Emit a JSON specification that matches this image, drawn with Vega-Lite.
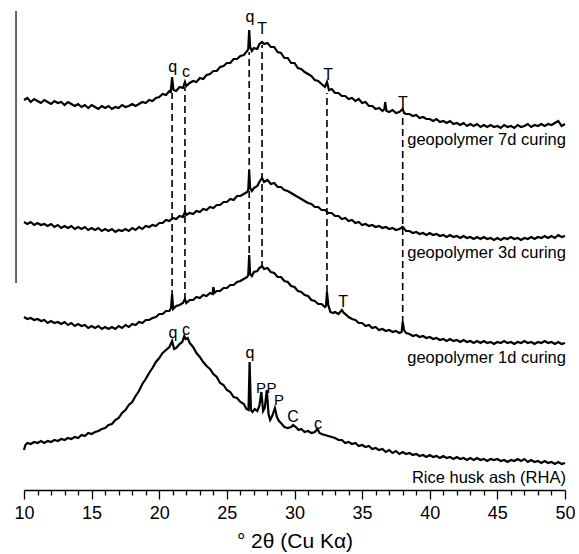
{
"$schema": "https://vega.github.io/schema/vega-lite/v6.json",
"width": 541, "height": 490,
"autosize": "none",
"padding": {"left": 24, "top": 0, "right": 14, "bottom": 64},
"config": {"view": {"stroke": null}, "font": "Liberation Sans"},
"datasets": {
"d7": [{"x":10,"y":390},{"x":10.25,"y":392},{"x":10.5,"y":388},{"x":10.75,"y":391},{"x":11,"y":389},{"x":11.25,"y":387},{"x":11.5,"y":390},{"x":11.75,"y":388},{"x":12,"y":386},{"x":12.25,"y":389},{"x":12.5,"y":387},{"x":12.75,"y":388},{"x":13,"y":385},{"x":13.25,"y":388},{"x":13.5,"y":386},{"x":13.75,"y":384},{"x":14,"y":386},{"x":14.25,"y":383},{"x":14.5,"y":385},{"x":14.75,"y":382},{"x":15,"y":385},{"x":15.25,"y":383},{"x":15.5,"y":381},{"x":15.75,"y":384},{"x":16,"y":382},{"x":16.25,"y":384},{"x":16.5,"y":381},{"x":16.75,"y":383},{"x":17,"y":382},{"x":17.25,"y":385},{"x":17.5,"y":383},{"x":17.75,"y":384},{"x":18,"y":386},{"x":18.25,"y":384},{"x":18.5,"y":386},{"x":18.75,"y":388},{"x":19,"y":387},{"x":19.25,"y":390},{"x":19.5,"y":389},{"x":19.75,"y":392},{"x":20,"y":393},{"x":20.25,"y":396},{"x":20.5,"y":395},{"x":20.75,"y":399},{"x":20.85,"y":398},{"x":20.95,"y":413},{"x":21.05,"y":400},{"x":21.25,"y":399},{"x":21.5,"y":403},{"x":21.75,"y":402},{"x":21.9,"y":408},{"x":22,"y":404},{"x":22.25,"y":407},{"x":22.5,"y":409},{"x":22.75,"y":408},{"x":23,"y":412},{"x":23.25,"y":411},{"x":23.5,"y":415},{"x":23.75,"y":416},{"x":24,"y":419},{"x":24.25,"y":419},{"x":24.5,"y":423},{"x":24.75,"y":424},{"x":25,"y":427},{"x":25.25,"y":427},{"x":25.5,"y":431},{"x":25.75,"y":431},{"x":26,"y":434},{"x":26.25,"y":435},{"x":26.5,"y":439},{"x":26.58,"y":441},{"x":26.65,"y":460},{"x":26.72,"y":443},{"x":26.85,"y":439},{"x":27,"y":442},{"x":27.25,"y":441},{"x":27.4,"y":446},{"x":27.6,"y":448},{"x":27.75,"y":446},{"x":28,"y":447},{"x":28.25,"y":443},{"x":28.5,"y":443},{"x":28.75,"y":438},{"x":29,"y":437},{"x":29.25,"y":432},{"x":29.5,"y":432},{"x":29.75,"y":427},{"x":30,"y":427},{"x":30.25,"y":422},{"x":30.5,"y":421},{"x":30.75,"y":418},{"x":31,"y":416},{"x":31.25,"y":414},{"x":31.5,"y":410},{"x":31.75,"y":409},{"x":32,"y":406},{"x":32.25,"y":403},{"x":32.4,"y":408},{"x":32.55,"y":400},{"x":32.75,"y":401},{"x":33,"y":397},{"x":33.25,"y":397},{"x":33.5,"y":394},{"x":33.75,"y":394},{"x":34,"y":391},{"x":34.25,"y":392},{"x":34.5,"y":389},{"x":34.75,"y":391},{"x":35,"y":387},{"x":35.25,"y":388},{"x":35.5,"y":384},{"x":35.75,"y":384},{"x":36,"y":381},{"x":36.25,"y":382},{"x":36.5,"y":379},{"x":36.65,"y":381},{"x":36.7,"y":388},{"x":36.8,"y":379},{"x":37,"y":378},{"x":37.25,"y":380},{"x":37.5,"y":377},{"x":37.75,"y":378},{"x":38,"y":381},{"x":38.1,"y":377},{"x":38.25,"y":376},{"x":38.5,"y":376},{"x":38.75,"y":374},{"x":39,"y":375},{"x":39.25,"y":372},{"x":39.5,"y":373},{"x":39.75,"y":371},{"x":40,"y":371},{"x":40.25,"y":369},{"x":40.5,"y":371},{"x":40.75,"y":368},{"x":41,"y":369},{"x":41.25,"y":367},{"x":41.5,"y":369},{"x":41.75,"y":366},{"x":42,"y":367},{"x":42.25,"y":365},{"x":42.5,"y":367},{"x":42.75,"y":364},{"x":43,"y":366},{"x":43.25,"y":364},{"x":43.5,"y":366},{"x":43.75,"y":363},{"x":44,"y":365},{"x":44.25,"y":363},{"x":44.5,"y":365},{"x":44.75,"y":363},{"x":45,"y":364},{"x":45.25,"y":362},{"x":45.5,"y":365},{"x":45.75,"y":363},{"x":46,"y":364},{"x":46.25,"y":362},{"x":46.5,"y":365},{"x":46.75,"y":363},{"x":47,"y":364},{"x":47.25,"y":366},{"x":47.5,"y":363},{"x":47.75,"y":365},{"x":48,"y":364},{"x":48.25,"y":366},{"x":48.5,"y":364},{"x":48.75,"y":366},{"x":49,"y":365},{"x":49.25,"y":367},{"x":49.5,"y":369},{"x":49.75,"y":364},{"x":50,"y":366}],
"d3": [{"x":10,"y":268},{"x":10.25,"y":266},{"x":10.5,"y":268},{"x":10.75,"y":265},{"x":11,"y":267},{"x":11.25,"y":265},{"x":11.5,"y":266},{"x":11.75,"y":264},{"x":12,"y":266},{"x":12.25,"y":263},{"x":12.5,"y":265},{"x":12.75,"y":262},{"x":13,"y":264},{"x":13.25,"y":262},{"x":13.5,"y":264},{"x":13.75,"y":261},{"x":14,"y":263},{"x":14.25,"y":261},{"x":14.5,"y":263},{"x":14.75,"y":260},{"x":15,"y":262},{"x":15.25,"y":260},{"x":15.5,"y":262},{"x":15.75,"y":259},{"x":16,"y":261},{"x":16.25,"y":259},{"x":16.5,"y":261},{"x":16.75,"y":258},{"x":17,"y":260},{"x":17.25,"y":259},{"x":17.5,"y":261},{"x":17.75,"y":259},{"x":18,"y":262},{"x":18.25,"y":260},{"x":18.5,"y":263},{"x":18.75,"y":261},{"x":19,"y":264},{"x":19.25,"y":263},{"x":19.5,"y":265},{"x":19.75,"y":264},{"x":20,"y":267},{"x":20.25,"y":267},{"x":20.5,"y":270},{"x":20.75,"y":269},{"x":21,"y":272},{"x":21.25,"y":271},{"x":21.5,"y":274},{"x":21.75,"y":273},{"x":21.9,"y":278},{"x":22,"y":275},{"x":22.25,"y":277},{"x":22.5,"y":276},{"x":22.75,"y":279},{"x":23,"y":278},{"x":23.25,"y":281},{"x":23.5,"y":280},{"x":23.75,"y":283},{"x":24,"y":282},{"x":24.25,"y":285},{"x":24.5,"y":285},{"x":24.75,"y":288},{"x":25,"y":288},{"x":25.25,"y":291},{"x":25.5,"y":290},{"x":25.75,"y":294},{"x":26,"y":294},{"x":26.25,"y":296},{"x":26.5,"y":298},{"x":26.58,"y":300},{"x":26.65,"y":320},{"x":26.72,"y":302},{"x":26.85,"y":299},{"x":27,"y":302},{"x":27.25,"y":304},{"x":27.4,"y":308},{"x":27.6,"y":312},{"x":27.75,"y":308},{"x":28,"y":310},{"x":28.25,"y":306},{"x":28.5,"y":307},{"x":28.75,"y":303},{"x":29,"y":303},{"x":29.25,"y":300},{"x":29.5,"y":299},{"x":29.75,"y":297},{"x":30,"y":295},{"x":30.25,"y":293},{"x":30.5,"y":291},{"x":30.75,"y":289},{"x":31,"y":287},{"x":31.25,"y":286},{"x":31.5,"y":283},{"x":31.75,"y":283},{"x":32,"y":280},{"x":32.25,"y":280},{"x":32.5,"y":277},{"x":32.75,"y":277},{"x":33,"y":274},{"x":33.25,"y":274},{"x":33.5,"y":271},{"x":33.75,"y":272},{"x":34,"y":269},{"x":34.25,"y":270},{"x":34.5,"y":267},{"x":34.75,"y":268},{"x":35,"y":265},{"x":35.25,"y":266},{"x":35.5,"y":264},{"x":35.75,"y":265},{"x":36,"y":263},{"x":36.25,"y":264},{"x":36.5,"y":262},{"x":36.75,"y":263},{"x":37,"y":261},{"x":37.25,"y":262},{"x":37.5,"y":260},{"x":37.75,"y":261},{"x":38,"y":263},{"x":38.25,"y":259},{"x":38.5,"y":259},{"x":38.75,"y":257},{"x":39,"y":258},{"x":39.25,"y":256},{"x":39.5,"y":257},{"x":39.75,"y":255},{"x":40,"y":257},{"x":40.25,"y":255},{"x":40.5,"y":256},{"x":40.75,"y":254},{"x":41,"y":255},{"x":41.25,"y":253},{"x":41.5,"y":255},{"x":41.75,"y":253},{"x":42,"y":254},{"x":42.25,"y":252},{"x":42.5,"y":254},{"x":42.75,"y":252},{"x":43,"y":253},{"x":43.25,"y":251},{"x":43.5,"y":253},{"x":43.75,"y":251},{"x":44,"y":253},{"x":44.25,"y":251},{"x":44.5,"y":252},{"x":44.75,"y":250},{"x":45,"y":252},{"x":45.25,"y":250},{"x":45.5,"y":252},{"x":45.75,"y":251},{"x":46,"y":253},{"x":46.25,"y":251},{"x":46.5,"y":252},{"x":46.75,"y":250},{"x":47,"y":252},{"x":47.25,"y":251},{"x":47.5,"y":253},{"x":47.75,"y":251},{"x":48,"y":253},{"x":48.25,"y":252},{"x":48.5,"y":254},{"x":48.75,"y":252},{"x":49,"y":254},{"x":49.25,"y":252},{"x":49.5,"y":255},{"x":49.75,"y":253},{"x":50,"y":254}],
"d1": [{"x":10,"y":173},{"x":10.25,"y":171},{"x":10.5,"y":172},{"x":10.75,"y":170},{"x":11,"y":171},{"x":11.25,"y":169},{"x":11.5,"y":170},{"x":11.75,"y":167},{"x":12,"y":169},{"x":12.25,"y":167},{"x":12.5,"y":168},{"x":12.75,"y":166},{"x":13,"y":168},{"x":13.25,"y":165},{"x":13.5,"y":167},{"x":13.75,"y":164},{"x":14,"y":166},{"x":14.25,"y":164},{"x":14.5,"y":165},{"x":14.75,"y":162},{"x":15,"y":164},{"x":15.25,"y":162},{"x":15.5,"y":164},{"x":15.75,"y":161},{"x":16,"y":163},{"x":16.25,"y":161},{"x":16.5,"y":163},{"x":16.75,"y":161},{"x":17,"y":164},{"x":17.25,"y":162},{"x":17.5,"y":165},{"x":17.75,"y":163},{"x":18,"y":166},{"x":18.25,"y":165},{"x":18.5,"y":168},{"x":18.75,"y":167},{"x":19,"y":170},{"x":19.25,"y":170},{"x":19.5,"y":172},{"x":19.75,"y":173},{"x":20,"y":176},{"x":20.25,"y":176},{"x":20.5,"y":179},{"x":20.75,"y":179},{"x":20.87,"y":182},{"x":20.95,"y":196},{"x":21.03,"y":181},{"x":21.25,"y":184},{"x":21.5,"y":185},{"x":21.75,"y":187},{"x":21.9,"y":191},{"x":22,"y":187},{"x":22.25,"y":190},{"x":22.5,"y":190},{"x":22.75,"y":193},{"x":23,"y":192},{"x":23.25,"y":195},{"x":23.5,"y":194},{"x":23.75,"y":197},{"x":23.95,"y":196},{"x":24,"y":203},{"x":24.08,"y":197},{"x":24.25,"y":199},{"x":24.5,"y":199},{"x":24.75,"y":202},{"x":25,"y":202},{"x":25.25,"y":205},{"x":25.5,"y":205},{"x":25.75,"y":208},{"x":26,"y":209},{"x":26.25,"y":211},{"x":26.5,"y":213},{"x":26.58,"y":215},{"x":26.65,"y":235},{"x":26.72,"y":216},{"x":26.85,"y":214},{"x":27,"y":218},{"x":27.25,"y":219},{"x":27.4,"y":222},{"x":27.6,"y":224},{"x":27.75,"y":221},{"x":28,"y":222},{"x":28.25,"y":218},{"x":28.5,"y":217},{"x":28.75,"y":213},{"x":29,"y":213},{"x":29.25,"y":209},{"x":29.5,"y":208},{"x":29.75,"y":204},{"x":30,"y":203},{"x":30.25,"y":199},{"x":30.5,"y":198},{"x":30.75,"y":195},{"x":31,"y":194},{"x":31.25,"y":190},{"x":31.5,"y":189},{"x":31.75,"y":186},{"x":32,"y":186},{"x":32.25,"y":183},{"x":32.33,"y":184},{"x":32.4,"y":198},{"x":32.5,"y":185},{"x":32.65,"y":178},{"x":32.85,"y":177},{"x":33,"y":178},{"x":33.25,"y":176},{"x":33.5,"y":180},{"x":33.65,"y":177},{"x":33.85,"y":175},{"x":34,"y":173},{"x":34.25,"y":171},{"x":34.5,"y":170},{"x":34.75,"y":167},{"x":35,"y":167},{"x":35.25,"y":164},{"x":35.5,"y":165},{"x":35.75,"y":162},{"x":36,"y":163},{"x":36.25,"y":160},{"x":36.5,"y":161},{"x":36.75,"y":159},{"x":37,"y":160},{"x":37.25,"y":158},{"x":37.5,"y":159},{"x":37.75,"y":157},{"x":37.92,"y":158},{"x":38,"y":168},{"x":38.1,"y":160},{"x":38.25,"y":157},{"x":38.5,"y":156},{"x":38.75,"y":154},{"x":39,"y":155},{"x":39.25,"y":153},{"x":39.5,"y":154},{"x":39.75,"y":152},{"x":40,"y":153},{"x":40.25,"y":151},{"x":40.5,"y":152},{"x":40.75,"y":150},{"x":41,"y":151},{"x":41.25,"y":149},{"x":41.5,"y":151},{"x":41.75,"y":149},{"x":42,"y":150},{"x":42.25,"y":148},{"x":42.5,"y":150},{"x":42.75,"y":148},{"x":43,"y":149},{"x":43.25,"y":147},{"x":43.5,"y":149},{"x":43.75,"y":147},{"x":44,"y":149},{"x":44.25,"y":147},{"x":44.5,"y":148},{"x":44.75,"y":146},{"x":45,"y":148},{"x":45.25,"y":147},{"x":45.5,"y":149},{"x":45.75,"y":147},{"x":46,"y":148},{"x":46.25,"y":146},{"x":46.5,"y":148},{"x":46.75,"y":147},{"x":47,"y":149},{"x":47.25,"y":147},{"x":47.5,"y":148},{"x":47.75,"y":146},{"x":48,"y":148},{"x":48.25,"y":147},{"x":48.5,"y":149},{"x":48.75,"y":147},{"x":49,"y":148},{"x":49.25,"y":146},{"x":49.5,"y":148},{"x":49.75,"y":146},{"x":50,"y":147}],
"rha": [{"x":10,"y":40},{"x":10.1,"y":45},{"x":10.25,"y":47},{"x":10.5,"y":46},{"x":10.75,"y":48},{"x":11,"y":47},{"x":11.25,"y":49},{"x":11.5,"y":47},{"x":11.75,"y":49},{"x":12,"y":48},{"x":12.25,"y":50},{"x":12.5,"y":49},{"x":12.75,"y":51},{"x":13,"y":50},{"x":13.25,"y":52},{"x":13.5,"y":51},{"x":13.75,"y":53},{"x":14,"y":52},{"x":14.25,"y":55},{"x":14.5,"y":54},{"x":14.75,"y":57},{"x":15,"y":56},{"x":15.25,"y":58},{"x":15.5,"y":59},{"x":15.75,"y":61},{"x":16,"y":62},{"x":16.25,"y":65},{"x":16.5,"y":66},{"x":16.75,"y":70},{"x":17,"y":72},{"x":17.25,"y":77},{"x":17.5,"y":80},{"x":17.75,"y":85},{"x":18,"y":88},{"x":18.25,"y":94},{"x":18.5,"y":99},{"x":18.75,"y":106},{"x":19,"y":111},{"x":19.25,"y":117},{"x":19.5,"y":122},{"x":19.75,"y":128},{"x":20,"y":132},{"x":20.25,"y":137},{"x":20.5,"y":140},{"x":20.75,"y":143},{"x":20.95,"y":149},{"x":21.1,"y":141},{"x":21.25,"y":142},{"x":21.5,"y":146},{"x":21.7,"y":148},{"x":21.85,"y":154},{"x":21.95,"y":151},{"x":22.1,"y":152},{"x":22.25,"y":147},{"x":22.5,"y":143},{"x":22.75,"y":137},{"x":23,"y":133},{"x":23.25,"y":128},{"x":23.5,"y":124},{"x":23.75,"y":121},{"x":24,"y":116},{"x":24.25,"y":113},{"x":24.5,"y":107},{"x":24.75,"y":105},{"x":25,"y":100},{"x":25.25,"y":98},{"x":25.5,"y":93},{"x":25.75,"y":92},{"x":26,"y":88},{"x":26.25,"y":86},{"x":26.45,"y":81},{"x":26.6,"y":80},{"x":26.68,"y":128},{"x":26.78,"y":80},{"x":26.9,"y":78},{"x":27.05,"y":81},{"x":27.25,"y":79},{"x":27.4,"y":84},{"x":27.55,"y":98},{"x":27.68,"y":79},{"x":27.8,"y":82},{"x":27.95,"y":100},{"x":28.08,"y":76},{"x":28.2,"y":70},{"x":28.35,"y":74},{"x":28.55,"y":82},{"x":28.7,"y":73},{"x":28.85,"y":69},{"x":29,"y":67},{"x":29.25,"y":63},{"x":29.5,"y":62},{"x":29.75,"y":63},{"x":29.9,"y":65},{"x":30.1,"y":63},{"x":30.3,"y":60},{"x":30.5,"y":61},{"x":30.75,"y":58},{"x":31,"y":59},{"x":31.25,"y":57},{"x":31.5,"y":58},{"x":31.7,"y":61},{"x":31.85,"y":57},{"x":32,"y":56},{"x":32.25,"y":55},{"x":32.5,"y":54},{"x":32.75,"y":53},{"x":33,"y":52},{"x":33.25,"y":50},{"x":33.5,"y":50},{"x":33.75,"y":47},{"x":34,"y":48},{"x":34.25,"y":46},{"x":34.5,"y":47},{"x":34.75,"y":44},{"x":35,"y":45},{"x":35.25,"y":43},{"x":35.5,"y":44},{"x":35.75,"y":41},{"x":36,"y":42},{"x":36.25,"y":40},{"x":36.5,"y":41},{"x":36.75,"y":38},{"x":37,"y":40},{"x":37.25,"y":37},{"x":37.5,"y":39},{"x":37.75,"y":36},{"x":38,"y":38},{"x":38.25,"y":36},{"x":38.5,"y":37},{"x":38.75,"y":35},{"x":39,"y":36},{"x":39.25,"y":34},{"x":39.5,"y":35},{"x":39.75,"y":33},{"x":40,"y":35},{"x":40.25,"y":33},{"x":40.5,"y":34},{"x":40.75,"y":32},{"x":41,"y":34},{"x":41.25,"y":32},{"x":41.5,"y":33},{"x":41.75,"y":31},{"x":42,"y":33},{"x":42.25,"y":31},{"x":42.5,"y":32},{"x":42.75,"y":30},{"x":43,"y":32},{"x":43.25,"y":30},{"x":43.5,"y":32},{"x":43.75,"y":30},{"x":44,"y":31},{"x":44.25,"y":29},{"x":44.5,"y":31},{"x":44.75,"y":30},{"x":45,"y":31},{"x":45.25,"y":29},{"x":45.5,"y":30},{"x":45.75,"y":28},{"x":46,"y":30},{"x":46.25,"y":29},{"x":46.5,"y":31},{"x":46.75,"y":29},{"x":47,"y":31},{"x":47.25,"y":28},{"x":47.5,"y":30},{"x":47.75,"y":28},{"x":48,"y":29},{"x":48.25,"y":27},{"x":48.5,"y":29},{"x":48.75,"y":27},{"x":49,"y":28},{"x":49.25,"y":26},{"x":49.5,"y":28},{"x":49.75,"y":26},{"x":50,"y":27}]
},
"encoding": {
  "x": {"field": "x", "type": "quantitative", "scale": {"domain": [10, 50], "nice": false, "zero": false},
    "axis": {"title": "° 2θ (Cu Kα)", "values": [10,11,12,13,14,15,16,17,18,19,20,21,22,23,24,25,26,27,28,29,30,31,32,33,34,35,36,37,38,39,40,41,42,43,44,45,46,47,48,49,50],
      "labelExpr": "datum.value % 5 === 0 ? datum.label : ''",
      "tickSize": {"condition": {"test": "datum.value % 5 === 0", "value": 9}, "value": 5},
      "grid": false, "domainColor": "black", "domainWidth": 1.5, "tickColor": "black", "tickWidth": 1.3,
      "labelFontSize": 18, "labelColor": "black", "labelFont": "Liberation Sans", "labelPadding": 5, "labelFlush": false, "labelOverlap": false,
      "titleFontSize": 21, "titleFontWeight": "normal", "titleColor": "black", "titleFont": "Liberation Sans", "titlePadding": 8}},
  "y": {"field": "y", "type": "quantitative", "scale": {"domain": [0, 490], "nice": false, "zero": false}, "axis": null}
},
"layer": [
  {"data": {"values": [{"x": 9.41, "y": 207, "y2": 479}]}, "mark": {"type": "rule", "color": "black", "strokeWidth": 1.2}, "encoding": {"y2": {"field": "y2"}}},
  {"data": {"values": [
    {"x": 20.95, "y": 193, "y2": 397},
    {"x": 21.9, "y": 190, "y2": 403},
    {"x": 26.65, "y": 215, "y2": 438},
    {"x": 27.6, "y": 222, "y2": 445},
    {"x": 32.4, "y": 198, "y2": 397},
    {"x": 38.0, "y": 167, "y2": 376}]},
   "mark": {"type": "rule", "color": "black", "strokeWidth": 1.6, "strokeDash": [7, 4]}, "encoding": {"y2": {"field": "y2"}}},
  {"data": {"name": "d7"}, "mark": {"type": "line", "color": "black", "strokeWidth": 2.2}, "encoding": {}},
  {"data": {"name": "d3"}, "mark": {"type": "line", "color": "black", "strokeWidth": 2.2}, "encoding": {}},
  {"data": {"name": "d1"}, "mark": {"type": "line", "color": "black", "strokeWidth": 2.2}, "encoding": {}},
  {"data": {"name": "rha"}, "mark": {"type": "line", "color": "black", "strokeWidth": 2.2}, "encoding": {}},
  {"data": {"values": [
    {"x": 21.0, "y": 423, "t": "q"}, {"x": 21.98, "y": 418, "t": "c"},
    {"x": 26.71, "y": 473, "t": "q"}, {"x": 27.6, "y": 461, "t": "T"},
    {"x": 32.48, "y": 415, "t": "T"}, {"x": 38.02, "y": 387, "t": "T"},
    {"x": 33.59, "y": 188, "t": "T"},
    {"x": 21.02, "y": 157, "t": "q"}, {"x": 21.98, "y": 160, "t": "c"},
    {"x": 26.71, "y": 137, "t": "q"},
    {"x": 29.89, "y": 73, "t": "C"}, {"x": 31.74, "y": 66, "t": "c"}]},
   "mark": {"type": "text", "fontSize": 16, "font": "Liberation Sans", "color": "black", "align": "center", "baseline": "middle"},
   "encoding": {"text": {"field": "t"}}},
  {"data": {"values": [
    {"x": 27.52, "y": 102, "t": "P"}, {"x": 28.3, "y": 102, "t": "P"}, {"x": 28.85, "y": 90, "t": "P"}]},
   "mark": {"type": "text", "fontSize": 15, "font": "Liberation Sans", "color": "black", "align": "center", "baseline": "middle"},
   "encoding": {"text": {"field": "t"}}},
  {"data": {"values": [
    {"x": 50.07, "y": 350, "t": "geopolymer 7d curing"},
    {"x": 50.07, "y": 237, "t": "geopolymer 3d curing"},
    {"x": 50.07, "y": 132, "t": "geopolymer 1d curing"},
    {"x": 50.07, "y": 12, "t": "Rice husk ash (RHA)"}]},
   "mark": {"type": "text", "fontSize": 16.5, "font": "Liberation Sans", "color": "black", "align": "right", "baseline": "middle"},
   "encoding": {"text": {"field": "t"}}}
]
}
